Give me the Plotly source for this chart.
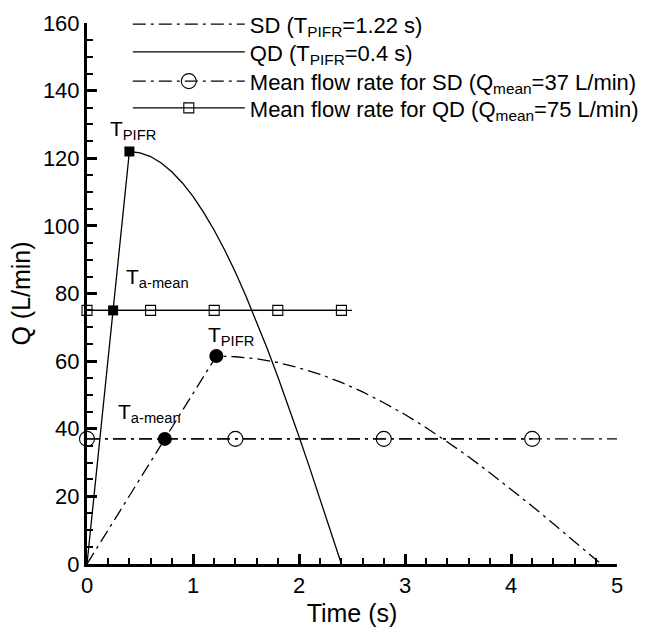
import plotly.graph_objects as go

# QD (quick deep) inhalation profile
qd_t = [0, 0.4, 0.5, 0.6, 0.7, 0.8, 0.9, 1.0, 1.1, 1.2, 1.3, 1.4, 1.5, 1.6, 1.7, 1.8, 1.9, 2.0, 2.1, 2.2, 2.3, 2.4]
qd_q = [0, 122, 121.6, 120.5, 118.6, 116.0, 112.7, 108.7, 104.0, 98.7, 92.8, 86.3, 79.2, 71.7, 63.7, 55.4,
        46.7, 37.7, 28.5, 19.1, 9.6, 0]

# SD (slow deep) inhalation profile
sd_t = [0, 1.22, 1.4, 1.6, 1.8, 2.0, 2.2, 2.4, 2.6, 2.8, 3.0, 3.2, 3.4, 3.6, 3.8, 4.0, 4.2, 4.4, 4.6, 4.75, 4.85]
sd_q = [0, 61.5, 61.3, 60.7, 59.6, 58.0, 56.1, 53.7, 50.9, 47.7, 44.2, 40.3, 36.1, 31.7, 27.0, 22.1, 17.1,
        11.9, 6.6, 2.4, 0]

# mean flow rates
sd_mean = 37
qd_mean = 75
sd_mean_marker_t = [0, 1.4, 2.8, 4.2]
sd_mean_line_t = [0, 5]
qd_mean_marker_t = [0, 0.6, 1.2, 1.8, 2.4]
qd_mean_line_t = [0, 2.5]

# characteristic points
qd_pifr = (0.4, 122)
qd_amean = (0.246, 75)
sd_pifr = (1.22, 61.5)
sd_amean = (0.734, 37)

FONT = "Liberation Sans, Arial, sans-serif"
DASHDOT = "13px,5px,3px,5px"

fig = go.Figure()

fig.add_trace(go.Scatter(x=sd_t, y=sd_q, mode="lines",
                         line=dict(color="black", width=1.3, dash=DASHDOT),
                         name="SD (T<sub>PIFR</sub>=1.22 s)", legend="legend"))
fig.add_trace(go.Scatter(x=qd_t, y=qd_q, mode="lines",
                         line=dict(color="black", width=1.3),
                         name="QD (T<sub>PIFR</sub>=0.4 s)", legend="legend2"))

# SD mean line (extends full width)
fig.add_trace(go.Scatter(x=sd_mean_line_t, y=[sd_mean] * len(sd_mean_line_t), mode="lines",
                         line=dict(color="black", width=1.3, dash=DASHDOT),
                         showlegend=False, hoverinfo="skip"))
fig.add_trace(go.Scatter(x=sd_mean_marker_t, y=[sd_mean] * len(sd_mean_marker_t), mode="lines+markers",
                         line=dict(color="black", width=1.3, dash=DASHDOT),
                         marker=dict(symbol="circle-open", size=15, color="black", line=dict(width=1.1)),
                         cliponaxis=False,
                         name="Mean flow rate for SD (Q<sub>mean</sub>=37 L/min)", legend="legend3"))

# QD mean line
fig.add_trace(go.Scatter(x=qd_mean_line_t, y=[qd_mean] * len(qd_mean_line_t), mode="lines",
                         line=dict(color="black", width=1.3),
                         showlegend=False, hoverinfo="skip"))
fig.add_trace(go.Scatter(x=qd_mean_marker_t, y=[qd_mean] * len(qd_mean_marker_t), mode="lines+markers",
                         line=dict(color="black", width=1.3),
                         marker=dict(symbol="square-open", size=10, color="black", line=dict(width=1.1)),
                         cliponaxis=False,
                         name="Mean flow rate for QD (Q<sub>mean</sub>=75 L/min)", legend="legend4"))

# characteristic points
fig.add_trace(go.Scatter(x=[qd_pifr[0], qd_amean[0]], y=[qd_pifr[1], qd_amean[1]], mode="markers",
                         marker=dict(symbol="square", size=10, color="black"),
                         showlegend=False, cliponaxis=False))
fig.add_trace(go.Scatter(x=[sd_pifr[0], sd_amean[0]], y=[sd_pifr[1], sd_amean[1]], mode="markers",
                         marker=dict(symbol="circle", size=14, color="black"),
                         showlegend=False, cliponaxis=False))

ann_font = dict(family=FONT, size=21, color="black")
labels = [
    (0.20, 128.5, "T<sub>PIFR</sub>"),
    (0.35, 84.5, "T<sub>a-mean</sub>"),
    (1.12, 67.5, "T<sub>PIFR</sub>"),
    (0.27, 44.8, "T<sub>a-mean</sub>"),
]
for x, y, txt in labels:
    fig.add_annotation(x=x, y=y, text=txt, showarrow=False, xanchor="left", yanchor="middle",
                       font=ann_font)

axis_common = dict(
    showline=True, linewidth=3, linecolor="black", mirror=False,
    showgrid=False, zeroline=False,
    ticks="inside", ticklen=10, tickwidth=3, tickcolor="black",
    tickfont=dict(family=FONT, size=22, color="black"),
)

fig.update_xaxes(range=[0, 5], dtick=1, tick0=0,
                 minor=dict(dtick=0.2, ticks="inside", ticklen=6, tickwidth=1.5, tickcolor="black"),
                 title=dict(text="Time (s)", font=dict(family=FONT, size=25, color="black"), standoff=8),
                 **axis_common)
fig.update_yaxes(range=[0, 160], dtick=20, tick0=0,
                 minor=dict(dtick=5, ticks="inside", ticklen=6, tickwidth=1.5, tickcolor="black"),
                 title=dict(text="Q (L/min)", font=dict(family=FONT, size=25, color="black"), standoff=6),
                 **axis_common)

legend_style = dict(x=0.077, xanchor="left", yanchor="top", itemwidth=112,
                    font=dict(family=FONT, size=22, color="black"),
                    bgcolor="rgba(0,0,0,0)", tracegroupgap=0)

fig.update_layout(
    width=650, height=634,
    margin=dict(l=87, r=33, t=23, b=70, autoexpand=False),
    paper_bgcolor="white", plot_bgcolor="white",
    font=dict(family=FONT, color="black"),
    legend=dict(y=1.0365, **legend_style),
    legend2=dict(y=0.9850, **legend_style),
    legend3=dict(y=0.9310, **legend_style),
    legend4=dict(y=0.8815, **legend_style),
)

fig.write_html("out.html")
